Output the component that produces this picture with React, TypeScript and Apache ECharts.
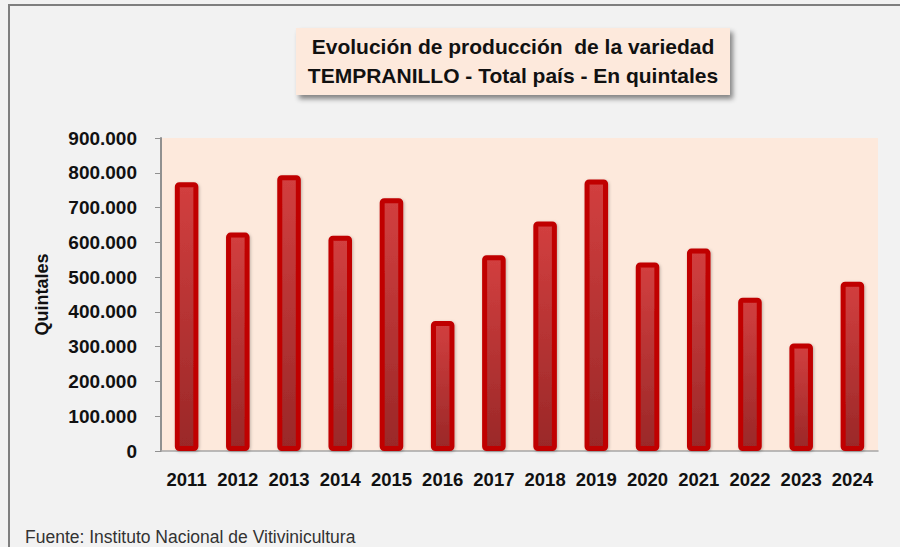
import React, { useEffect, useRef } from "react";
import * as echarts from "echarts";

const years = ["2011", "2012", "2013", "2014", "2015", "2016", "2017", "2018", "2019", "2020", "2021", "2022", "2023", "2024"];
const quintales = [773000, 628000, 793000, 619000, 727000, 374000, 563000, 660000, 781000, 542000, 582000, 441000, 309000, 487000];
const titleLines = ["Evolución de producción  de la variedad", "TEMPRANILLO - Total país - En quintales"];
const yAxisName = "Quintales";
const sourceText = "Fuente: Instituto Nacional de Vitivinicultura";

const fmt = (v: number) => String(v).replace(/\B(?=(\d{3})+(?!\d))/g, ".");

export default function App() {
  const ref = useRef<HTMLDivElement>(null);
  useEffect(() => {
    const chart = echarts.init(ref.current!, null, { renderer: "svg" });
    const font = "'Liberation Sans', Arial, sans-serif";
    chart.setOption({
      animation: false,
      backgroundColor: "#f2f2f2",
      textStyle: { fontFamily: font },
      grid: {
        left: 161,
        right: 22,
        top: 138,
        bottom: 96,
        show: true,
        backgroundColor: "#fde9dc",
        borderWidth: 0,
      },
      xAxis: {
        type: "category",
        data: years,
        axisLine: { lineStyle: { color: "#a6a6a6", width: 1.5 } },
        axisTick: { inside: true, length: 6, lineStyle: { color: "#a6a6a6" } },
        axisLabel: { interval: 0, color: "#111", fontWeight: "bold", fontSize: 18.5, margin: 19, fontFamily: font },
      },
      yAxis: {
        type: "value",
        min: 0,
        max: 900000,
        interval: 100000,
        name: yAxisName,
        nameLocation: "middle",
        nameRotate: 90,
        nameGap: 110,
        nameTextStyle: { color: "#111", fontWeight: "bold", fontSize: 18, fontFamily: font },
        axisLine: { show: true, lineStyle: { color: "#909090", width: 2 } },
        axisTick: { show: true, length: 6, lineStyle: { color: "#909090" } },
        splitLine: { show: false },
        axisLabel: {
          color: "#111",
          fontWeight: "bold",
          fontSize: 19,
          margin: 24,
          fontFamily: font,
          formatter: (v: number) => fmt(v),
        },
      },
      series: [
        {
          type: "bar",
          data: quintales,
          barWidth: "46%",
          itemStyle: {
            color: new echarts.graphic.LinearGradient(0, 0, 0, 1, [
              { offset: 0, color: "#d23f3f" },
              { offset: 1, color: "#9a2828" },
            ]),
            borderColor: "#c00000",
            borderWidth: 5,
            borderRadius: 2,
            shadowColor: "rgba(0,0,0,0.25)",
            shadowBlur: 3,
            shadowOffsetX: 1,
            shadowOffsetY: 1,
          },
        },
      ],
      graphic: [
        {
          type: "rect",
          shape: { x: 9, y: 5, width: 900, height: 560 },
          style: { fill: "none", stroke: "#7f7f7f", lineWidth: 2 },
          silent: true,
        },
        {
          type: "rect",
          shape: { x: 296, y: 28, width: 434, height: 67 },
          style: {
            fill: "#fde9dc",
            shadowColor: "rgba(0,0,0,0.45)",
            shadowBlur: 5,
            shadowOffsetX: 3,
            shadowOffsetY: 4,
          },
        },
        {
          type: "text",
          x: 513,
          y: 46,
          style: {
            text: titleLines[0],
            font: `bold 21px ${font}`,
            fill: "#111",
            textAlign: "center",
            textVerticalAlign: "middle",
          },
        },
        {
          type: "text",
          x: 513,
          y: 75,
          style: {
            text: titleLines[1],
            font: `bold 21px ${font}`,
            fill: "#111",
            textAlign: "center",
            textVerticalAlign: "middle",
          },
        },
        {
          type: "text",
          x: 25,
          y: 537,
          style: {
            text: sourceText,
            font: `17.5px ${font}`,
            fill: "#333",
            textAlign: "left",
            textVerticalAlign: "middle",
          },
        },
      ],
    });
    return () => chart.dispose();
  }, []);
  return (
    <div
      ref={ref}
      style={{ position: "fixed", left: 0, top: 0, width: 900, height: 547 }}
    />
  );
}
